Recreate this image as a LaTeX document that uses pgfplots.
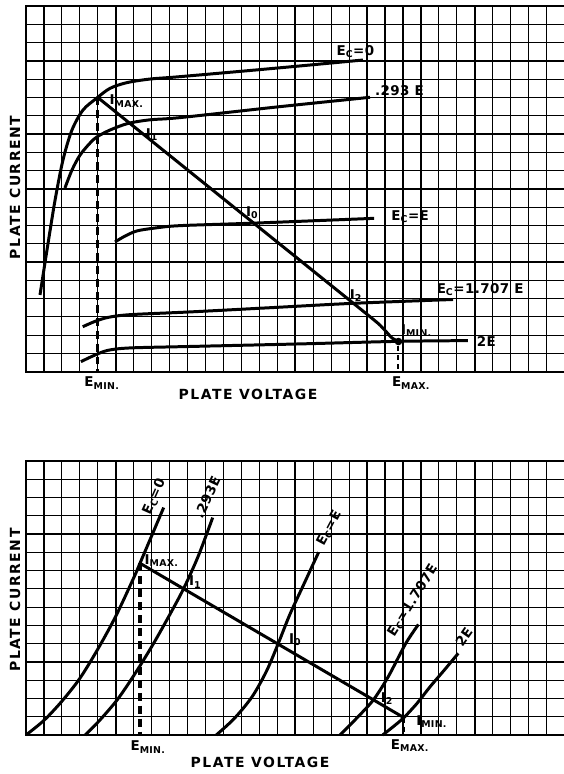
\documentclass[border=0pt]{standalone}
\usepackage{fontspec}
\setmainfont{DejaVu Sans}
\usepackage{pgfplots}
\pgfplotsset{compat=1.18}

\newcommand\sub[1]{\textsubscript{#1}}

\pgfplotsset{
  paper/.style={
    scale only axis, clip=false,
    xmin=0, xmax=30, ymin=0,
    xtick={0,5,...,30}, minor xtick={0,...,30},
    grid=both,
    major grid style={black, line width=1.6pt},
    minor grid style={black, line width=1.2pt},
    xticklabels={}, yticklabels={},
    major tick length=0pt, minor tick length=0pt,
    axis line style={line width=1.8pt},
    cycle list={{black, solid}},
    every axis plot/.append style={line width=3pt, black, no markers},
  },
}
\tikzset{
  lb/.style={font=\bfseries\fontsize{13.5}{15}\selectfont\addfontfeature{LetterSpace=3}, inner sep=0pt},
  axlab/.style={font=\bfseries\fontsize{14}{16}\selectfont\addfontfeature{LetterSpace=11}, inner sep=0pt},
}

\begin{document}
\begin{tikzpicture}
% upper chart: load line on the flat characteristics
\begin{axis}[paper, at={(0,0)}, anchor=south west,
    x=17.95bp, y=18.28bp, ymax=20,
    ytick={0,5,...,20}, minor ytick={0,...,20}]
  % Ec = 0
  \addplot[smooth] coordinates {(0.78,4.2) (1.17,6.66) (1.62,9.39) (2.06,11.58) (2.56,13.22)
    (3.18,14.32) (3.96,14.98) (4.68,15.5) (5.61,15.81) (6.91,16.01) (8.58,16.14)
    (13.87,16.6) (18.77,17.05)};
  % .293 E
  \addplot[smooth] coordinates {(2.17,10.05) (2.56,11.03) (3.01,11.85) (3.57,12.51) (3.96,12.85)
    (4.68,13.22) (5.68,13.58) (6.91,13.78) (8.58,13.9) (14.15,14.5) (19.16,15.01)};
  % Ec = E
  \addplot[smooth] coordinates {(4.96,7.1) (5.52,7.42) (6.18,7.7) (7.19,7.86) (8.58,7.99)
    (12.76,8.13) (19.39,8.39)};
  % Ec = 1.707 E
  \addplot[smooth] coordinates {(3.16,2.46) (3.84,2.75) (4.57,2.97) (5.79,3.12) (9.14,3.27)
    (13.59,3.5) (18.22,3.74) (23.79,3.95)};
  % 2E
  \addplot[smooth] coordinates {(3.06,0.55) (3.84,0.91) (4.57,1.17) (5.79,1.3) (9.14,1.38)
    (15.26,1.52) (20.72,1.66) (24.62,1.7)};
  % load line
  \addplot[smooth] coordinates {(4,15) (10,10.25) (16,5.51) (19.2,2.98) (19.75,2.52)
    (20.1,2.15) (20.4,1.84) (20.75,1.65)};
  \addplot[line width=1.5pt, only marks, mark=o, mark size=3pt] coordinates {(20.75,1.65)};
  % E min / E max
  \addplot[line width=3.2pt, dash pattern=on 8pt off 5pt] coordinates {(4,15) (4,0)};
  \addplot[line width=2pt, dash pattern=on 5pt off 4pt] coordinates {(20.75,1.4) (20.75,0)};

  \node[lb] at (axis cs:18.35,17.5) {E\sub{C}=0};
  \node[lb] at (axis cs:20.8,15.35) {.293 E};
  \node[lb] at (axis cs:21.4,8.46) {E\sub{C}=E};
  \node[lb] at (axis cs:25.3,4.47) {E\sub{C}=1.707 E};
  \node[lb] at (axis cs:25.65,1.65) {2E};
  \node[lb] at (axis cs:5.6,14.8) {I\sub{MAX.}};
  \node[lb] at (axis cs:7.02,12.95) {I\sub{1}};
  \node[lb] at (axis cs:12.6,8.7) {I\sub{0}};
  \node[lb] at (axis cs:18.38,4.14) {I\sub{2}};
  \node[lb] at (axis cs:21.75,2.25) {I\sub{MIN.}};
  \node[lb] at (axis cs:4.23,-0.62) {E\sub{MIN.}};
  \node[lb] at (axis cs:21.45,-0.62) {E\sub{MAX.}};
  \node[axlab] at (axis cs:12.37,-1.22) {PLATE VOLTAGE};
  \node[axlab, rotate=90] at (axis cs:-0.61,10.08) {PLATE CURRENT};
\end{axis}

% lower chart: load line on the steep characteristics
\begin{axis}[paper, at={(0,-363.3bp)}, anchor=south west,
    x=17.95bp, y=18.27bp, ymax=15,
    ytick={0,5,...,15}, minor ytick={0,...,15}]
  % Ec = 0
  \addplot[smooth] coordinates {(0,0) (1,0.8) (2,1.85) (3,3.1) (4,4.7) (5,6.5) (6,8.6)
    (6.35,9.4) (7,10.9) (7.67,12.45)};
  % .293 E
  \addplot[smooth] coordinates {(3.3,0) (4.1,0.8) (5.1,1.95) (6.1,3.4) (7.1,5.0) (8.1,6.75)
    (8.8,8.05) (9.6,9.8) (10.4,11.9)};
  % Ec = E
  \addplot[smooth] coordinates {(10.6,0) (11.6,0.9) (12.6,2.1) (13.4,3.5) (14.05,5.0)
    (14.7,6.6) (15.5,8.3) (16.3,10.0)};
  % Ec = 1.707 E
  \addplot[smooth] coordinates {(17.49,0) (18.45,0.95) (19.35,1.92) (20.18,3.19) (21.15,5.0)
    (21.86,6.05)};
  % 2E
  \addplot[smooth] coordinates {(19.87,0) (20.45,0.45) (21.05,0.95) (21.8,1.75) (22.51,2.64)
    (23.3,3.55) (24.08,4.47)};
  % load line
  \addplot[sharp plot] coordinates {(6.35,9.4) (21.05,0.95)};
  % E min / E max
  \addplot[line width=3.2pt, dash pattern=on 8pt off 5pt] coordinates {(6.35,9.4) (6.35,0)};
  \addplot[line width=2pt, dash pattern=on 5pt off 4pt] coordinates {(21.05,0.95) (21.05,0)};

  \node[lb, rotate=66] at (axis cs:7.15,13.05) {E\sub{C}=0};
  \node[lb, rotate=65] at (axis cs:10.1,13.0) {.293E};
  \node[lb, rotate=62] at (axis cs:16.9,11.3) {E\sub{C}=E};
  \node[lb, rotate=58] at (axis cs:21.55,7.35) {E\sub{C}=1.707E};
  \node[lb, rotate=55] at (axis cs:24.4,5.35) {2E};
  \node[lb] at (axis cs:7.55,9.55) {I\sub{MAX.}};
  \node[lb] at (axis cs:9.42,8.37) {I\sub{1}};
  \node[lb] at (axis cs:15.0,5.23) {I\sub{0}};
  \node[lb] at (axis cs:20.1,1.97) {I\sub{2}};
  \node[lb] at (axis cs:22.6,0.75) {I\sub{MIN.}};
  \node[lb] at (axis cs:6.8,-0.66) {E\sub{MIN.}};
  \node[lb] at (axis cs:21.39,-0.6) {E\sub{MAX.}};
  \node[axlab] at (axis cs:13.04,-1.48) {PLATE VOLTAGE};
  \node[axlab, rotate=90] at (axis cs:-0.61,7.39) {PLATE CURRENT};
\end{axis}
\pgfresetboundingbox
\path[use as bounding box] (-26bp,-402.3bp) rectangle (538bp,371.7bp);
\end{tikzpicture}
\end{document}
